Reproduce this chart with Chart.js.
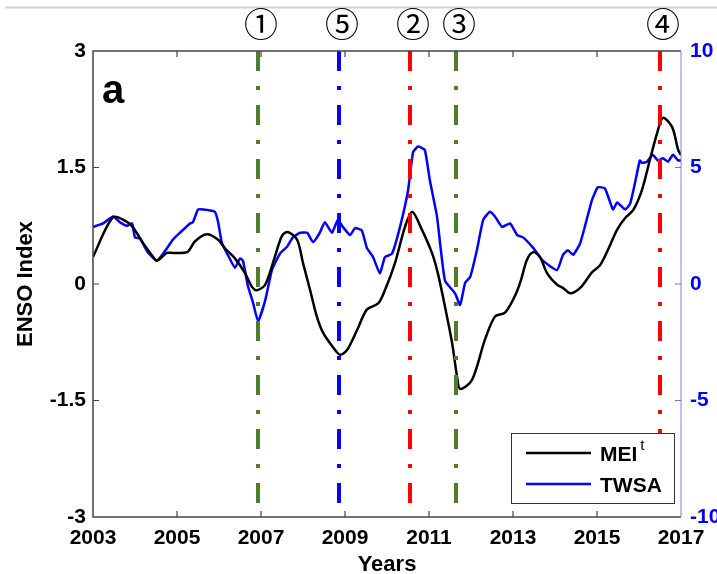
<!DOCTYPE html>
<html>
<head>
<meta charset="utf-8">
<script src="https://cdn.jsdelivr.net/npm/chart.js@4.4.1/dist/chart.umd.min.js"></script>
<style>
  html, body { margin: 0; padding: 0; background: #fff; }
  #wrap { width: 717px; height: 574px; }
</style>
</head>
<body>
<div id="wrap"><canvas id="ensoChart" width="717" height="574"></canvas></div>
<script>
// MEI (left axis, ENSO index)
const meiYears = [2003.00, 2003.48, 2003.81, 2003.95, 2004.19, 2004.43, 2004.52, 2004.76, 2004.90, 2005.24,
    2005.43, 2005.71, 2005.98, 2006.14, 2006.38, 2006.62, 2006.79, 2006.90, 2007.10, 2007.33,
    2007.50, 2007.64, 2007.86, 2008.00, 2008.17, 2008.33, 2008.48, 2008.71, 2008.88, 2009.05,
    2009.29, 2009.52, 2009.79, 2009.95, 2010.19, 2010.43, 2010.60, 2010.83, 2011.07, 2011.21,
    2011.38, 2011.55, 2011.67, 2011.74, 2012.02, 2012.33, 2012.57, 2012.81, 2013.05, 2013.19,
    2013.33, 2013.48, 2013.64, 2013.81, 2014.05, 2014.19, 2014.36, 2014.60, 2014.88, 2015.07,
    2015.26, 2015.48, 2015.67, 2015.86, 2016.07, 2016.26, 2016.43, 2016.57, 2016.79, 2016.93, 2017.00];
const meiValues = [0.35, 0.86, 0.80, 0.73, 0.53, 0.35, 0.30, 0.40, 0.40, 0.41,
    0.55, 0.64, 0.57, 0.46, 0.33, 0.14, -0.04, -0.08, -0.01, 0.35,
    0.62, 0.67, 0.57, 0.27, -0.08, -0.42, -0.63, -0.81, -0.91, -0.85,
    -0.59, -0.33, -0.25, -0.08, 0.27, 0.74, 0.93, 0.70, 0.40, 0.14,
    -0.29, -0.76, -1.20, -1.35, -1.24, -0.72, -0.42, -0.37, -0.15, 0.05,
    0.31, 0.41, 0.35, 0.14, -0.01, -0.05, -0.12, -0.05, 0.15, 0.24,
    0.44, 0.70, 0.85, 0.95, 1.21, 1.60, 1.94, 2.14, 2.02, 1.73, 1.66];

// TWSA (right axis)
const twsaYears = [2003.00, 2003.24, 2003.48, 2003.64, 2003.81, 2003.93, 2004.00, 2004.12, 2004.29, 2004.52,
    2004.71, 2004.90, 2005.07, 2005.31, 2005.38, 2005.50, 2005.62, 2005.90, 2005.98, 2006.07,
    2006.21, 2006.38, 2006.50, 2006.57, 2006.69, 2006.81, 2006.93, 2007.10, 2007.26, 2007.45,
    2007.62, 2007.76, 2007.93, 2008.10, 2008.24, 2008.40, 2008.52, 2008.69, 2008.83, 2008.95,
    2009.12, 2009.24, 2009.40, 2009.52, 2009.67, 2009.83, 2009.95, 2010.12, 2010.31, 2010.50,
    2010.62, 2010.74, 2010.90, 2011.02, 2011.19, 2011.38, 2011.62, 2011.74, 2011.86, 2011.98,
    2012.14, 2012.29, 2012.45, 2012.57, 2012.74, 2012.93, 2013.10, 2013.24, 2013.48, 2013.71,
    2014.05, 2014.19, 2014.31, 2014.43, 2014.60, 2014.88, 2015.02, 2015.19, 2015.38, 2015.48,
    2015.67, 2015.79, 2015.90, 2016.02, 2016.07, 2016.19, 2016.33, 2016.45, 2016.57, 2016.69,
    2016.81, 2016.93, 2017.00];
const twsaValues = [2.45, 2.6, 2.9, 2.65, 2.5, 2.6, 2.0, 1.95, 1.4, 1.0,
    1.4, 1.9, 2.2, 2.6, 2.65, 3.2, 3.2, 3.1, 2.65, 1.75,
    1.25, 0.7, 1.1, 1.0, -0.1, -0.8, -1.6, -0.7, 0.6, 1.3,
    1.6, 2.0, 2.2, 2.2, 1.8, 2.2, 2.65, 2.2, 2.75, 2.45,
    2.1, 2.4, 2.3, 1.55, 1.15, 0.45, 1.15, 1.3, 2.45, 4.0,
    5.65, 5.9, 5.75, 4.45, 2.9, 0.15, -0.4, -0.9, 0.05, 0.3,
    1.45, 2.75, 3.1, 2.9, 2.45, 2.6, 2.1, 2.0, 1.55, 1.0,
    0.6, 1.25, 1.45, 1.25, 1.75, 3.6, 4.15, 4.1, 3.2, 3.5,
    3.2, 3.45, 4.3, 5.3, 5.2, 5.25, 5.55, 5.3, 5.4, 5.25,
    5.55, 5.3, 5.3];

// marked events
const eventYears = [2006.93, 2008.86, 2010.55, 2011.64, 2016.5];
const eventLabels = ['\u2460', '\u2464', '\u2461', '\u2462', '\u2463'];

// tick labels
const yearTicks = [2003, 2005, 2007, 2009, 2011, 2013, 2015, 2017];
const ensoTicks = [-3, -1.5, 0, 1.5, 3];
const twsaTicks = [-10, -5, 0, 5, 10];

const FONT = '"Liberation Sans", Arial, sans-serif';

const figurePlugin = {
    id: 'figure',
    afterDatasetsDraw(chart, args, opts) {
        const ctx = chart.ctx;
        const {left, right, top, bottom} = chart.chartArea;
        const xs = chart.scales.x, ys = chart.scales.y, ys1 = chart.scales.y1;
        ctx.save();

        // dash-dot event lines
        ctx.lineWidth = 4;
        ctx.setLineDash([20, 15, 4, 15]);
        eventYears.forEach((yr, i) => {
            const px = Math.round(xs.getPixelForValue(yr));
            ctx.strokeStyle = opts.eventColors[i];
            ctx.beginPath();
            ctx.moveTo(px, top);
            ctx.lineTo(px, bottom);
            ctx.stroke();
        });
        ctx.setLineDash([]);

        // frame
        ctx.strokeStyle = '#444';
        ctx.lineWidth = 1.5;
        ctx.beginPath();
        ctx.moveTo(right, top);
        ctx.lineTo(left, top);
        ctx.lineTo(left, bottom);
        ctx.lineTo(right, bottom);
        ctx.stroke();
        ctx.strokeStyle = '#7a7aff';
        ctx.lineWidth = 1;
        ctx.beginPath();
        ctx.moveTo(right, top);
        ctx.lineTo(right, bottom);
        ctx.stroke();

        // inward ticks
        ctx.strokeStyle = '#444';
        ctx.lineWidth = 1.2;
        ctx.beginPath();
        yearTicks.slice(1, -1).forEach(v => {
            const px = xs.getPixelForValue(v);
            ctx.moveTo(px, bottom); ctx.lineTo(px, bottom - 6);
            ctx.moveTo(px, top); ctx.lineTo(px, top + 6);
        });
        ensoTicks.slice(1, -1).forEach(v => {
            const py = ys.getPixelForValue(v);
            ctx.moveTo(left, py); ctx.lineTo(left + 6, py);
        });
        ctx.stroke();
        ctx.strokeStyle = '#6a6aff';
        ctx.beginPath();
        twsaTicks.slice(1, -1).forEach(v => {
            const py = ys1.getPixelForValue(v);
            ctx.moveTo(right, py); ctx.lineTo(right - 6, py);
        });
        ctx.stroke();

        // thin gray rule at the very top
        ctx.strokeStyle = '#d4d4d4';
        ctx.lineWidth = 2;
        ctx.beginPath();
        ctx.moveTo(5, 7.5);
        ctx.lineTo(chart.width, 7.5);
        ctx.stroke();

        // panel letter
        ctx.fillStyle = '#000';
        ctx.font = 'bold 40px ' + FONT;
        ctx.textAlign = 'left';
        ctx.textBaseline = 'alphabetic';
        ctx.fillText('a', left + 9, top + 52);

        // circled event numbers
        ctx.font = '34px "DejaVu Serif", "Noto Sans CJK JP", serif';
        ctx.textAlign = 'center';
        ctx.textBaseline = 'middle';
        eventYears.forEach((yr, i) => {
            ctx.fillText(eventLabels[i], xs.getPixelForValue(yr) + 3, 28);
        });

        // legend box
        const lx = 511, ly = 433, lw = 163, lh = 70;
        ctx.fillStyle = '#fff';
        ctx.fillRect(lx, ly, lw, lh);
        ctx.strokeStyle = '#333';
        ctx.lineWidth = 1;
        ctx.strokeRect(lx + 0.5, ly + 0.5, lw, lh);
        chart.data.datasets.forEach((ds, i) => {
            const yy = ly + 20 + i * 31;
            ctx.strokeStyle = ds.borderColor;
            ctx.lineWidth = 2.5;
            ctx.beginPath();
            ctx.moveTo(lx + 15, yy);
            ctx.lineTo(lx + 80, yy);
            ctx.stroke();
            ctx.fillStyle = '#000';
            ctx.font = 'bold 21px ' + FONT;
            ctx.textAlign = 'left';
            ctx.textBaseline = 'alphabetic';
            ctx.fillText(ds.label, lx + 89, yy + 8);
            if (ds.sup) {
                const w = ctx.measureText(ds.label).width;
                ctx.font = '15px ' + FONT;
                ctx.fillText(ds.sup, lx + 89 + w + 3, yy - 3);
            }
        });
        ctx.restore();
    }
};

const ctx = document.getElementById('ensoChart').getContext('2d');
new Chart(ctx, {
    type: 'line',
    data: {
        datasets: [
            {
                label: 'MEI',
                sup: 't',
                data: meiYears.map((yr, i) => ({x: yr, y: meiValues[i]})),
                borderColor: '#000000',
                borderWidth: 2.5,
                pointRadius: 0,
                tension: 0.3,
                yAxisID: 'y'
            },
            {
                label: 'TWSA',
                data: twsaYears.map((yr, i) => ({x: yr, y: twsaValues[i]})),
                borderColor: '#0000ff',
                borderWidth: 2.5,
                pointRadius: 0,
                tension: 0.15,
                yAxisID: 'y1'
            }
        ]
    },
    options: {
        responsive: false,
        animation: false,
        layout: { padding: { top: 51, left: 0, right: 0, bottom: 0 } },
        plugins: {
            legend: { display: false },
            tooltip: { enabled: false },
            figure: { eventColors: ['#4f7d2c', '#0000ff', '#ff0000', '#4f7d2c', '#ff0000'] }
        },
        scales: {
            x: {
                type: 'linear',
                min: 2003,
                max: 2017,
                afterBuildTicks: s => { s.ticks = yearTicks.map(v => ({value: v})); },
                afterFit: s => { s.height = 57; },
                grid: { display: false, drawTicks: false },
                border: { display: false },
                ticks: {
                    color: '#000',
                    padding: 9,
                    maxRotation: 0,
                    font: { family: FONT, size: 21, weight: 'bold' },
                    callback: v => String(v)
                },
                title: {
                    display: true,
                    text: 'Years',
                    color: '#000',
                    font: { family: FONT, size: 22, weight: 'bold', lineHeight: 1 },
                    padding: { top: 0, bottom: -2 }
                }
            },
            y: {
                position: 'left',
                min: -3,
                max: 3,
                afterBuildTicks: s => { s.ticks = ensoTicks.map(v => ({value: v})); },
                afterFit: s => { s.width = 93; },
                grid: { display: false, drawTicks: false },
                border: { display: false },
                ticks: {
                    color: '#000',
                    padding: 7,
                    font: { family: FONT, size: 21, weight: 'bold' }
                },
                title: {
                    display: true,
                    text: 'ENSO Index',
                    color: '#000',
                    font: { family: FONT, size: 22, weight: 'bold', lineHeight: 1 },
                    padding: { top: 15, bottom: 0 }
                }
            },
            y1: {
                position: 'right',
                min: -10,
                max: 10,
                afterBuildTicks: s => { s.ticks = twsaTicks.map(v => ({value: v})); },
                afterFit: s => { s.width = 36; },
                grid: { display: false, drawTicks: false },
                border: { display: false },
                ticks: {
                    color: '#0000ff',
                    padding: 9,
                    font: { family: FONT, size: 21, weight: 'bold' }
                }
            }
        }
    },
    plugins: [figurePlugin]
});
</script>
</body>
</html>
